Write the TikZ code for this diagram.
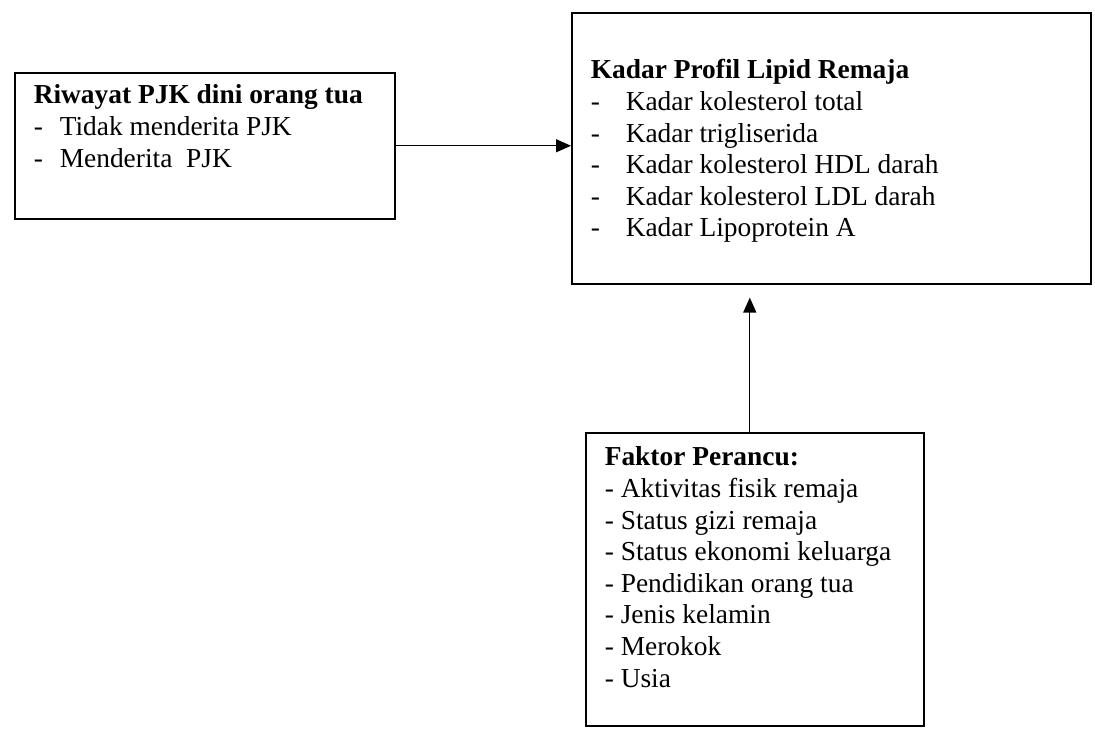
\documentclass[tikz,border=0pt]{standalone}
\usepackage{fontspec}
\setmainfont{Liberation Serif}
\usetikzlibrary{arrows.meta}

\newlength\pxu
\setlength\pxu{0.02cm}

\begin{document}
\begin{tikzpicture}[
    x=0.02cm, y=-0.02cm,
    font=\fontsize{15.6}{18}\selectfont,
    box/.style={draw, line width=0.9pt, anchor=north west, inner xsep=0.38cm, inner ysep=0pt},
    link/.style={line width=0.75pt, -{Triangle[length=0.3cm, width=0.26cm]}}
]

\useasboundingbox (0,0) rectangle (1095,729);


\node[box] (lbox) at (14,72) {\parbox[t][146\pxu][t]{342\pxu}{%
    \rule{0pt}{31\pxu}\textbf{Riwayat PJK dini orang tua}\\
    \makebox[26\pxu][l]{-}Tidak menderita PJK\\
    \makebox[26\pxu][l]{-}Menderita\ \ PJK}};

\node[box] (tbox) at (571,12) {\parbox[t][271\pxu][t]{481\pxu}{%
    \rule{0pt}{66\pxu}\textbf{Kadar Profil Lipid Remaja}\\
    \makebox[35\pxu][l]{-}Kadar kolesterol total\\
    \makebox[35\pxu][l]{-}Kadar trigliserida\\
    \makebox[35\pxu][l]{-}Kadar kolesterol HDL darah\\
    \makebox[35\pxu][l]{-}Kadar kolesterol LDL darah\\
    \makebox[35\pxu][l]{-}Kadar Lipoprotein A}};

\node[box] (bbox) at (585,432) {\parbox[t][293\pxu][t]{300\pxu}{%
    \rule{0pt}{33\pxu}\textbf{Faktor Perancu:}\\
    - Aktivitas fisik remaja\\
    - Status gizi remaja\\
    - Status ekonomi keluarga\\
    - Pendidikan orang tua\\
    - Jenis kelamin\\
    - Merokok\\
    - Usia}};


\draw[link] (lbox.east) -- (lbox.east -| tbox.west);
\draw[link, shorten >=0.26cm] ([xshift=-0.1cm]bbox.north) -- ([xshift=-0.1cm]bbox.north |- tbox.south);

\end{tikzpicture}
\end{document}
